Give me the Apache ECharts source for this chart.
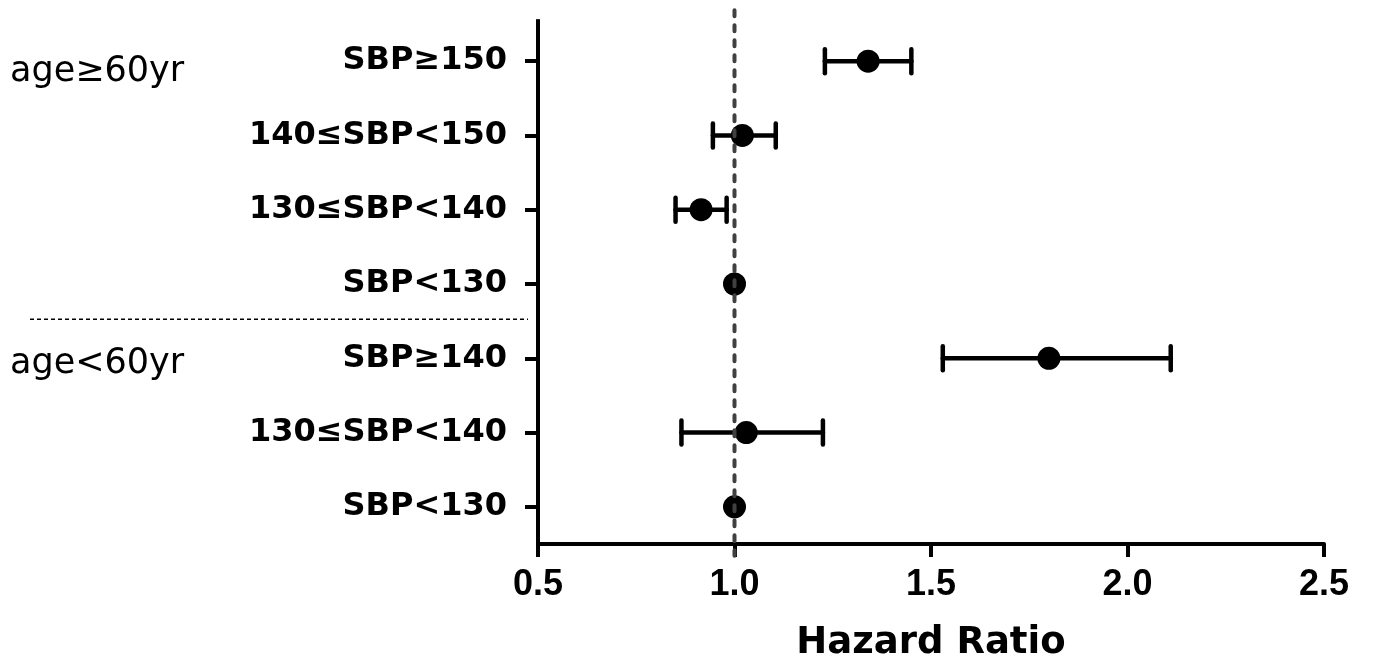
<!DOCTYPE html>
<html>
<head>
<meta charset="utf-8">
<script src="https://cdn.jsdelivr.net/npm/echarts@6/dist/echarts.min.js"></script>
<style>
html,body{margin:0;padding:0;background:#fff;}
#chart{width:1373px;height:671px;}
</style>
</head>
<body>
<div id="chart"></div>
<script>
// ---- data ----
var rowLabels = ['SBP≥150', '140≤SBP<150', '130≤SBP<140', 'SBP<130', 'SBP≥140', '130≤SBP<140', 'SBP<130'];
var groupLabels = ['age≥60yr', 'age<60yr'];
var groupRows = [0, 4];
var hazardRatio = [1.34, 1.02, 0.915, 1.0, 1.80, 1.03, 1.0];
var ciLow = [1.23, 0.945, 0.85, null, 1.53, 0.865, null];
var ciHigh = [1.45, 1.105, 0.98, null, 2.11, 1.225, null];
var xTicks = [0.5, 1.0, 1.5, 2.0, 2.5];
var refValue = 1.0;

var chart = echarts.init(document.getElementById('chart'));

var pointData = hazardRatio.map(function (v, i) { return [v, i]; });
var ciData = [];
for (var i = 0; i < rowLabels.length; i++) {
  if (ciLow[i] != null) ciData.push([i, ciLow[i], ciHigh[i]]);
}

var option = {
  backgroundColor: '#fff',
  animation: false,
  grid: { left: 538, right: 49, top: 24, bottom: 127, containLabel: false },
  xAxis: {
    type: 'value',
    min: xTicks[0],
    max: xTicks[xTicks.length - 1],
    interval: 0.5,
    name: 'Hazard Ratio',
    nameLocation: 'middle',
    nameGap: 81,
    nameTextStyle: { fontFamily: 'DejaVu Sans', fontWeight: 'bold', fontSize: 37, color: '#000' },
    axisLine: { show: true, lineStyle: { color: '#000', width: 4 } },
    axisTick: { show: true, length: 13, lineStyle: { color: '#000', width: 4 } },
    axisLabel: {
      margin: 23,
      fontFamily: 'Liberation Sans, Arial', fontWeight: 'bold', fontSize: 36, color: '#000',
      formatter: function (v) { return v.toFixed(1); }
    },
    splitLine: { show: false }
  },
  yAxis: {
    type: 'category',
    inverse: true,
    data: rowLabels,
    boundaryGap: true,
    axisLine: { show: true, lineStyle: { color: '#000', width: 4 } },
    axisTick: { show: true, alignWithLabel: true, length: 13, lineStyle: { color: '#000', width: 4 } },
    axisLabel: {
      margin: 31,
      fontFamily: 'DejaVu Sans', fontWeight: 'bold', fontSize: 32, color: '#000'
    },
    splitLine: { show: false }
  },
  series: [
    {
      type: 'custom',
      z: 2,
      renderItem: function (params, api) {
        var y = api.value(0);
        var lo = api.coord([api.value(1), y]);
        var hi = api.coord([api.value(2), y]);
        var h = 12;
        var style = { stroke: '#000', lineWidth: 4.5, lineCap: 'round' };
        return {
          type: 'group',
          children: [
            { type: 'line', shape: { x1: lo[0], y1: lo[1], x2: hi[0], y2: hi[1] }, style: style },
            { type: 'line', shape: { x1: lo[0], y1: lo[1] - h, x2: lo[0], y2: lo[1] + h }, style: style },
            { type: 'line', shape: { x1: hi[0], y1: hi[1] - h, x2: hi[0], y2: hi[1] + h }, style: style }
          ]
        };
      },
      encode: { x: [1, 2], y: 0 },
      data: ciData
    },
    {
      type: 'scatter',
      z: 3,
      symbol: 'circle',
      symbolSize: 23,
      itemStyle: { color: '#000', opacity: 1 },
      data: pointData
    }
  ]
};
chart.setOption(option);

// decorations positioned from the axes
var r3 = chart.convertToPixel({ yAxisIndex: 0 }, 3);
var r4 = chart.convertToPixel({ yAxisIndex: 0 }, 4);
var sepY = (r3 + r4) / 2 - 2;
var g0 = chart.convertToPixel({ yAxisIndex: 0 }, groupRows[0]);
var g1 = chart.convertToPixel({ yAxisIndex: 0 }, groupRows[1]);
var axisX = chart.convertToPixel({ xAxisIndex: 0 }, xTicks[0]);
var refX = chart.convertToPixel({ xAxisIndex: 0 }, refValue);
var topY = chart.convertToPixel({ yAxisIndex: 0 }, 0) - 42;
var bottomY = chart.convertToPixel({ yAxisIndex: 0 }, rowLabels.length - 1) + 37;

chart.setOption({
  graphic: [
    { type: 'line', z: 1, shape: { x1: axisX, y1: topY, x2: axisX, y2: topY + 10 }, style: { stroke: '#000', lineWidth: 4 } },
    { type: 'line', z: 1, shape: { x1: 30, y1: sepY, x2: axisX - 10, y2: sepY }, style: { stroke: '#000', lineWidth: 1.5, lineDash: [4, 3] } },
    { type: 'line', z: 100, shape: { x1: refX, y1: topY - 9, x2: refX, y2: bottomY + 12 }, style: { stroke: '#404040', lineWidth: 4, lineCap: 'round', lineDash: [6, 9] } },
    { type: 'text', left: 10, top: g0 - 7, style: { text: groupLabels[0], font: '35px "DejaVu Sans"', fill: '#000' } },
    { type: 'text', left: 10, top: g1 - 12, style: { text: groupLabels[1], font: '35px "DejaVu Sans"', fill: '#000' } }
  ]
});
</script>
</body>
</html>
